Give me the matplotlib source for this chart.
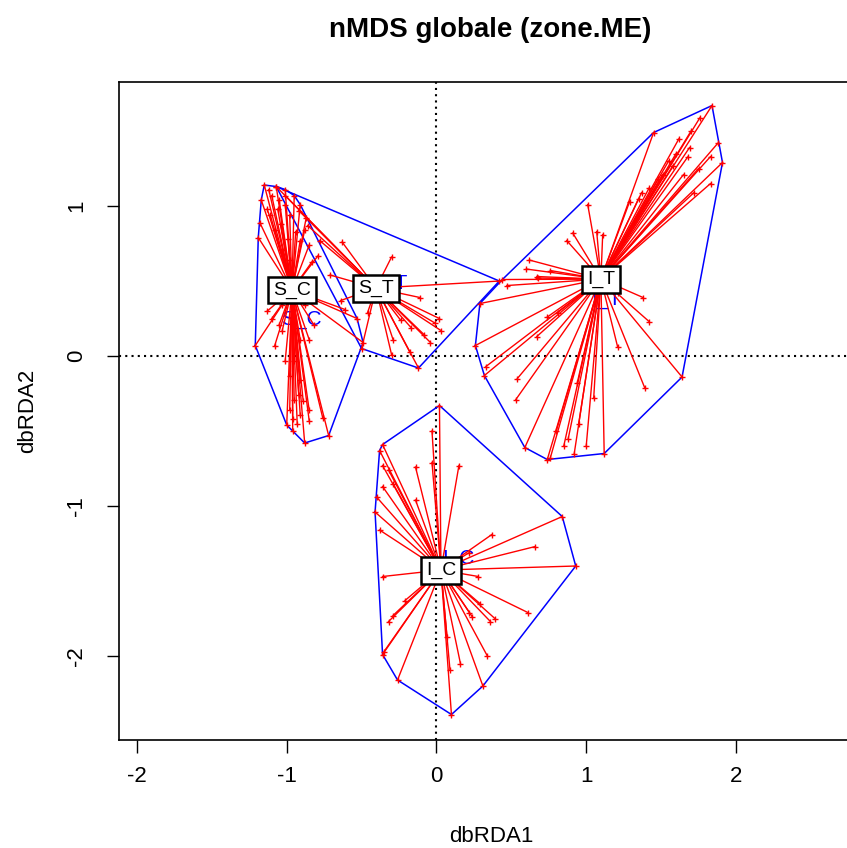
import numpy as np
import matplotlib
matplotlib.use("Agg")
import matplotlib.pyplot as plt

plt.rcParams['font.family'] = ['Liberation Sans', 'DejaVu Sans']
plt.rcParams['axes.unicode_minus'] = False

groups = ["S_C", "S_T", "I_T", "I_C"]

# constrained (LC) positions each site is linked to
centres = {
    "S_C": (-0.965, 0.44),
    "S_T": (-0.404, 0.453),
    "I_T": (1.098, 0.513),
    "I_C": (0.030, -1.427),
}

sc_x = [-1.15, -1.07, -1.12, -1.10, -1.05, -1.01, -1.17, -1.19, -1.18, -1.11, -1.08, -0.98,
        -0.94, -0.91, -0.88, -0.85, -0.79, -0.83, -0.98, -1.03, -0.91, -0.95, -1.01, -1.06,
        -1.13, -1.04, -0.99, -0.87,
        -1.21, -0.88, -0.72, -1.08, -1.03, -1.05, -0.91, -0.85, -0.82, -1.00, -0.98, -0.95,
        -0.91, -0.85, -0.91, -0.98, -1.01, -0.95, -1.03, -0.88, -0.53, -0.61, -0.49, -0.96,
        -0.93, -0.89, -1.10, -1.13, -0.96, -0.92, -0.85, -0.76]
sc_y = [1.14, 1.13, 1.11, 1.07, 1.04, 1.01, 1.04, 0.79, 0.89, 0.94, 0.84, 0.94,
        0.83, 0.77, 0.84, 0.74, 0.67, 0.63, 0.64, 0.71, 1.01, 1.07, 1.11, 0.98,
        0.98, 0.88, 0.78, 0.92,
        0.07, -0.58, -0.53, 0.07, 0.17, 0.21, 0.11, 0.11, 0.21, -0.46, -0.36, -0.29,
        -0.39, -0.43, -0.16, -0.13, -0.03, -0.03, 0.34, 0.34, 0.25, 0.31, 0.09, -0.50,
        -0.45, -0.30, 0.25, 0.30, -0.42, -0.26, -0.36, -0.41]

st_x = [-1.07, -1.01, -0.92, -0.86, -0.78, -0.63, -0.30, 0.42, -0.12, -0.50, -0.30, 0.02,
        -0.01, -0.11, -0.17, -0.29, -0.04, -0.46, -0.71, -0.64, -0.24, -0.08, -0.18, 0.03]
st_y = [1.13, 1.07, 0.97, 0.87, 0.77, 0.76, 0.66, 0.50, -0.08, 0.05, 0.01, 0.25,
        0.22, 0.39, 0.19, 0.11, 0.09, 0.29, 0.54, 0.37, 0.24, 0.14, 0.03, 0.17]

it_x = [1.84, 1.45, 1.88, 1.91, 1.76, 1.69, 1.68, 1.65, 1.83, 1.83, 1.72, 1.58,
        1.51, 1.37, 1.29, 1.01, 0.91, 0.87, 1.07, 1.11, 0.62, 0.60, 0.68, 0.76,
        0.44, 0.29, 0.26, 0.32, 0.59, 0.76, 0.92, 1.12, 1.64, 1.39, 1.42, 1.38,
        1.21, 1.05, 0.94, 0.53, 0.54, 0.67, 0.33, 0.81, 0.74, 1.21, 0.67, 0.47,
        0.74, 1.55, 1.60, 1.48, 1.42, 1.62, 1.70, 1.35, 1.75, 0.85, 0.88, 0.80,
        0.95, 1.00]
it_y = [1.67, 1.49, 1.42, 1.29, 1.59, 1.39, 1.33, 1.21, 1.33, 1.15, 1.09, 1.27,
        1.21, 1.09, 1.03, 1.01, 0.82, 0.77, 0.83, 0.81, 0.64, 0.58, 0.52, 0.57,
        0.51, 0.35, 0.07, -0.13, -0.61, -0.68, -0.65, -0.65, -0.14, -0.21, 0.23, 0.39,
        0.06, -0.28, -0.18, -0.29, -0.15, 0.13, -0.07, 0.29, 0.26, 0.42, 0.53, 0.47,
        -0.69, 1.30, 1.35, 1.18, 1.12, 1.45, 1.50, 1.05, 1.25, -0.60, -0.55, -0.50,
        -0.45, -0.60]

ic_x = [0.02, -0.36, -0.40, -0.41, -0.38, -0.36, -0.36, -0.29, -0.14, -0.14, -0.03, -0.03,
        0.15, 0.84, 0.93, 0.66, 0.37, 0.22, 0.28, 0.61, 0.39, 0.36, 0.34, 0.31,
        0.10, 0.16, 0.09, -0.26, -0.36, -0.32, -0.29, -0.36, -0.21, 0.22, 0.07, 0.24,
        0.29, -0.35, -0.38, -0.32]
ic_y = [-0.33, -0.59, -0.94, -1.04, -1.16, -0.73, -0.87, -0.85, -0.74, -0.96, -0.50, -0.71,
        -0.73, -1.07, -1.40, -1.27, -1.19, -1.31, -1.47, -1.71, -1.75, -1.77, -2.00, -2.20,
        -2.39, -2.05, -2.09, -2.16, -1.99, -1.77, -1.73, -1.47, -1.63, -1.71, -1.87, -1.74,
        -1.65, -1.97, -0.63, -0.76]

sites = {
    "S_C": (sc_x, sc_y),
    "S_T": (st_x, st_y),
    "I_T": (it_x, it_y),
    "I_C": (ic_x, ic_y),
}


def convex_hull(pts):
    pts = sorted(set(pts))
    def cross(o, a, b):
        return (a[0] - o[0]) * (b[1] - o[1]) - (a[1] - o[1]) * (b[0] - o[0])
    lower, upper = [], []
    for p in pts:
        while len(lower) >= 2 and cross(lower[-2], lower[-1], p) <= 0:
            lower.pop()
        lower.append(p)
    for p in reversed(pts):
        while len(upper) >= 2 and cross(upper[-2], upper[-1], p) <= 0:
            upper.pop()
        upper.append(p)
    return np.array(lower[:-1] + upper[:-1])


def polygon_centroid(h):
    x, y = h[:, 0], h[:, 1]
    x1, y1 = np.roll(x, -1), np.roll(y, -1)
    c = x * y1 - x1 * y
    a = c.sum() / 2
    return (x + x1).dot(c) / (6 * a), (y + y1).dot(c) / (6 * a)


fig = plt.figure(figsize=(8.47, 8.48), dpi=100)
ax = fig.add_axes([119 / 847, 108 / 848, 745 / 847, 658 / 848])
ax.set_xlim(-2.12, 2.855)
ax.set_ylim(-2.56, 1.827)

ax.axhline(0, color="black", lw=1.5, ls=(0, (1, 2)), zorder=1)
ax.axvline(0, color="black", lw=1.5, ls=(0, (1, 2)), zorder=1)

# hulls, with their labels at the hull centroid
for g in groups:
    xs, ys = sites[g]
    hull = convex_hull(list(zip(xs, ys)))
    ring = np.vstack([hull, hull[:1]])
    ax.plot(ring[:, 0], ring[:, 1], color="blue", lw=1.1, zorder=2)
    cx, cy = polygon_centroid(hull)
    ax.text(cx, cy, g, color="blue", fontsize=15, ha="center", va="center", zorder=2)

# spiders
for g in groups:
    xs, ys = sites[g]
    x0, y0 = centres[g]
    for x, y in zip(xs, ys):
        ax.plot([x0, x], [y0, y], color="red", lw=1.0, zorder=3)
    ax.plot(xs, ys, "+", color="red", ms=4.5, mew=1.0, zorder=3)

for g in groups:
    x0, y0 = centres[g]
    ax.text(x0, y0, g, fontsize=14, ha="center", va="center", zorder=5,
            bbox=dict(boxstyle="square,pad=0.25", fc="white", ec="black", lw=1.8))

ax.set_xticks([-2, -1, 0, 1, 2])
ax.set_yticks([-2, -1, 0, 1])
ax.tick_params(length=9, width=1, labelsize=16)
ax.tick_params(axis="x", pad=10)
ax.tick_params(axis="y", pad=14)
plt.setp(ax.get_yticklabels(), rotation=90, va="center")
for s in ax.spines.values():
    s.set_linewidth(1.2)

ax.set_xlabel("dbRDA1", fontsize=16, labelpad=28)
ax.set_ylabel("dbRDA2", fontsize=16, labelpad=20)
fig.text(490 / 847, 1 - 30 / 848, "nMDS globale (zone.ME)", fontsize=20,
         fontweight="bold", ha="center", va="center")

fig.savefig("out.png", dpi=100)
